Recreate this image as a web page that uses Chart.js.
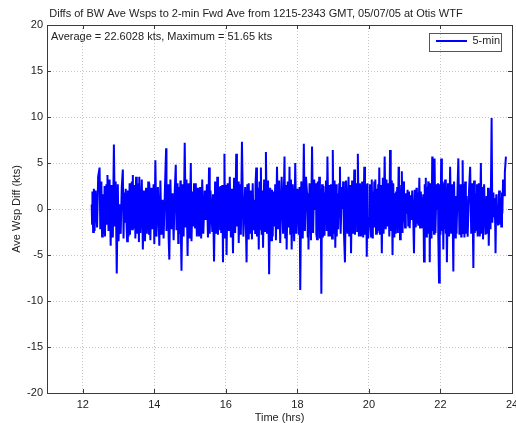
<!DOCTYPE html>
<html>
<head>
<meta charset="utf-8">
<title>Ave Wsp Diff</title>
<script src="https://cdn.jsdelivr.net/npm/chart.js@4.4.1/dist/chart.umd.min.js"></script>
<style>
html, body { margin: 0; padding: 0; background: #fff; overflow: hidden; }
#wrap { width: 530px; height: 423px; }
</style>
</head>
<body>
<div id="wrap"><canvas id="chart" width="530" height="423"></canvas></div>
<script>
/* =========================
DATA
========================= */

const titleText =
"Diffs of BW Ave Wsps to 2-min Fwd Ave from 1215-2343 GMT, 05/07/05 at Otis WTF";

const noteText =
"Average = 22.6028 kts, Maximum = 51.65 kts";

const seriesName = "5-min";

const xTicks = [12, 14, 16, 18, 20, 22, 24];

const yTicks = [-20, -15, -10, -5, 0, 5, 10, 15, 20];

// time of each sample (hrs)
const hours = [
  // 12.25 - 14.03
  12.25, 12.26, 12.27, 12.29, 12.31, 12.33, 12.36, 12.40, 12.43, 12.47,
  12.49, 12.52, 12.54, 12.56, 12.59, 12.61, 12.62, 12.64, 12.65, 12.66,
  12.68, 12.69, 12.72, 12.75, 12.78, 12.81, 12.84, 12.87, 12.90, 12.92,
  12.95, 12.98, 13.00, 13.03, 13.06, 13.09, 13.12, 13.14, 13.16, 13.18,
  13.20, 13.22, 13.24, 13.26, 13.28, 13.31, 13.32, 13.34, 13.35, 13.37,
  13.38, 13.40, 13.41, 13.43, 13.44, 13.46, 13.47, 13.49, 13.51, 13.52,
  13.54, 13.55, 13.57, 13.58, 13.61, 13.65, 13.68, 13.71, 13.74, 13.77,
  13.79, 13.80, 13.82, 13.83, 13.85, 13.86, 13.89, 13.92, 13.95, 13.98,
  14.00, 14.03,
  // 14.06 - 15.96
  14.06, 14.10, 14.14, 14.17, 14.20, 14.23, 14.26, 14.30, 14.33, 14.34,
  14.36, 14.37, 14.39, 14.40, 14.42, 14.45, 14.48, 14.51, 14.54, 14.57,
  14.60, 14.62, 14.65, 14.67, 14.68, 14.70, 14.71, 14.73, 14.74, 14.76,
  14.79, 14.82, 14.85, 14.88, 14.90, 14.93, 14.96, 14.99, 15.02, 15.04,
  15.07, 15.09, 15.11, 15.14, 15.16, 15.19, 15.22, 15.25, 15.28, 15.31,
  15.34, 15.37, 15.41, 15.44, 15.47, 15.50, 15.53, 15.55, 15.57, 15.59,
  15.62, 15.64, 15.67, 15.70, 15.73, 15.76, 15.78, 15.79, 15.81, 15.82,
  15.84, 15.85, 15.87, 15.90, 15.92, 15.93, 15.95, 15.96,
  // 15.98 - 17.94
  15.98, 16.00, 16.02, 16.05, 16.08, 16.11, 16.14, 16.17, 16.20, 16.23,
  16.26, 16.29, 16.31, 16.34, 16.36, 16.39, 16.42, 16.45, 16.49, 16.54,
  16.58, 16.60, 16.62, 16.64, 16.67, 16.70, 16.73, 16.75, 16.78, 16.80,
  16.82, 16.83, 16.85, 16.87, 16.90, 16.92, 16.94, 16.96, 16.98, 17.00,
  17.02, 17.04, 17.07, 17.10, 17.12, 17.15, 17.18, 17.21, 17.24, 17.27,
  17.29, 17.31, 17.33, 17.35, 17.38, 17.40, 17.43, 17.46, 17.49, 17.52,
  17.56, 17.60, 17.64, 17.66, 17.68, 17.70, 17.73, 17.76, 17.78, 17.80,
  17.82, 17.84, 17.87, 17.91, 17.94,
  // 17.97 - 19.94
  17.97, 18.00, 18.02, 18.04, 18.06, 18.08, 18.11, 18.15, 18.18, 18.21,
  18.24, 18.27, 18.29, 18.30, 18.31, 18.34, 18.38, 18.41, 18.44, 18.47,
  18.50, 18.52, 18.53, 18.55, 18.57, 18.59, 18.61, 18.63, 18.65, 18.67,
  18.69, 18.71, 18.73, 18.75, 18.76, 18.78, 18.80, 18.82, 18.84, 18.87,
  18.89, 18.92, 18.94, 18.97, 18.99, 19.01, 19.04, 19.06, 19.08, 19.10,
  19.12, 19.14, 19.17, 19.19, 19.21, 19.24, 19.26, 19.28, 19.30, 19.33,
  19.36, 19.40, 19.43, 19.45, 19.48, 19.50, 19.53, 19.56, 19.59, 19.61,
  19.62, 19.64, 19.66, 19.67, 19.69, 19.72, 19.75, 19.78, 19.81, 19.84,
  19.87, 19.89, 19.92, 19.94,
  // 19.96 - 21.96
  19.96, 19.98, 20.01, 20.03, 20.06, 20.08, 20.10, 20.11, 20.13, 20.15,
  20.16, 20.18, 20.20, 20.22, 20.24, 20.26, 20.27, 20.29, 20.31, 20.34,
  20.36, 20.39, 20.41, 20.44, 20.47, 20.49, 20.52, 20.54, 20.57, 20.59,
  20.61, 20.64, 20.66, 20.68, 20.71, 20.73, 20.75, 20.76, 20.78, 20.79,
  20.81, 20.83, 20.84, 20.86, 20.87, 20.89, 20.90, 20.92, 20.94, 20.96,
  20.98, 21.01, 21.03, 21.06, 21.08, 21.10, 21.12, 21.14, 21.17, 21.19,
  21.21, 21.24, 21.26, 21.28, 21.31, 21.33, 21.34, 21.36, 21.37, 21.38,
  21.40, 21.41, 21.43, 21.45, 21.47, 21.49, 21.52, 21.54, 21.56, 21.57,
  21.59, 21.60, 21.62, 21.63, 21.64, 21.65, 21.66, 21.67, 21.69, 21.70,
  21.72, 21.75, 21.77, 21.78, 21.80, 21.81, 21.82, 21.83, 21.84, 21.86,
  21.89, 21.91, 21.93, 21.94, 21.96,
  // 21.98 - 23.83
  21.98, 22.00, 22.02, 22.04, 22.06, 22.08, 22.10, 22.11, 22.13, 22.15,
  22.16, 22.18, 22.21, 22.24, 22.27, 22.30, 22.33, 22.36, 22.38, 22.41,
  22.43, 22.45, 22.48, 22.50, 22.53, 22.55, 22.58, 22.59, 22.61, 22.62,
  22.64, 22.65, 22.67, 22.69, 22.71, 22.73, 22.76, 22.80, 22.83, 22.86,
  22.89, 22.92, 22.94, 22.96, 22.98, 23.00, 23.02, 23.04, 23.07, 23.10,
  23.13, 23.15, 23.17, 23.19, 23.22, 23.26, 23.29, 23.31, 23.33, 23.35,
  23.38, 23.40, 23.43, 23.45, 23.48, 23.50, 23.51, 23.53, 23.54, 23.56,
  23.57, 23.59, 23.61, 23.64, 23.66, 23.67, 23.69, 23.70, 23.72, 23.73,
  23.75, 23.78, 23.80, 23.83
];

// wind speed difference (kts)
const diffs = [
  // 12.25 - 14.03
  0.5, -1.6, 1.9, -2.5, 2.2, -2.4, 2.0, -2.0, 3.5, 4.5,
  -2.2, 3.0, -3.0, 1.6, -2.7, 2.5, -3.0, 1.4, -1.5, 2.7,
  -1.6, 3.7, -2.4, 3.2, -4.0, 2.6, -3.1, 7.0, -1.9, 3.0,
  -7.0, 2.7, -3.5, 0.5, -2.7, 2.4, 4.3, -3.2, 1.8, -1.5,
  2.2, -1.1, -3.5, 2.0, -3.0, 2.8, -2.8, 1.9, -1.0, 3.0,
  -2.2, 3.7, -1.8, 2.6, -2.0, 2.2, -3.2, 3.5, -2.7, 1.6,
  -1.5, 2.8, -3.6, 3.5, -2.6, 3.2, -4.4, 2.0, -3.5, 2.3,
  -2.7, 1.5, -1.0, 3.0, -2.8, 2.8, -3.4, 2.3, -2.2, 2.7,
  -3.8, 5.3,
  // 14.06 - 15.96
  -3.0, 2.4, -4.0, 3.1, -2.8, 1.0, -3.2, 2.6, 6.6, -2.4,
  2.0, -1.0, 2.7, -3.1, -5.5, 3.2, -2.2, 1.7, -3.4, 1.8,
  4.8, -2.3, 2.8, -3.7, 2.4, -2.6, 0.5, 3.1, -1.9, -6.7,
  2.7, -3.0, 7.2, -2.0, 3.2, -5.1, 2.8, -3.2, 5.0, -3.5,
  1.9, -1.9, 2.8, -2.0, 2.8, -3.0, 2.3, -3.0, 2.4, -3.2,
  3.2, -2.7, 2.0, -1.2, 2.7, -3.1, 4.5, -2.7, 2.0, 0.6,
  -2.4, 1.6, -5.7, 3.0, -2.7, 3.5, -2.8, 1.6, -0.5, 2.4,
  -2.2, 2.5, -2.6, 2.6, -5.8, 2.0, -2.3, 6.0,
  // 15.98 - 17.94
  -3.1, 2.6, -5.0, 2.8, -2.4, 3.5, -3.1, 2.2, -4.8, 3.4,
  -2.6, 6.0, -1.9, 3.0, -3.7, 2.7, -2.8, 7.3, -3.0, 2.4,
  -5.8, 2.7, -3.2, 2.8, -2.7, 2.0, -3.3, 2.8, -2.3, 1.0,
  -2.6, 2.7, 4.5, -3.0, 2.3, -4.4, 3.0, -2.2, 4.5, -2.8,
  2.0, -4.2, 3.2, -2.4, 6.2, -2.7, 3.1, -7.1, 2.3, -3.4,
  2.1, -3.0, 1.9, -1.9, 2.7, -3.4, 4.6, -2.2, 3.1, -3.7,
  3.5, -2.7, 5.7, -3.1, 2.6, -4.4, 3.0, -2.0, 4.6, -2.7,
  3.2, -4.4, 2.7, -3.5, 5.0,
  // 17.97 - 19.94
  -2.7, 2.2, 0.5, -2.8, 2.4, -8.8, 3.0, -3.2, 7.1, -2.4,
  3.5, 1.7, -3.1, 1.6, -4.4, 2.8, -3.4, 6.8, -2.6, 3.2,
  0.0, 2.8, -2.7, -3.3, 3.0, -2.4, 3.5, -3.2, 2.2, -9.2,
  2.7, -3.1, 2.5, -2.8, 1.8, -1.0, 3.1, -2.4, 5.7, -3.0,
  2.6, -3.0, 2.7, -3.2, 6.4, -2.7, 3.1, -4.2, 2.7, -3.0,
  1.7, -2.2, 2.7, 4.6, -2.7, 2.4, 0.0, 3.0, -2.3, -5.8,
  3.1, -2.7, 3.5, -3.0, 2.6, -4.8, 3.1, -2.7, 4.3, -2.8,
  2.0, -0.5, 2.8, -2.4, 6.0, -3.0, 2.8, -3.0, 3.0, -3.1,
  4.6, -2.8, 2.7, -5.2,
  // 19.96 - 21.96
  2.8, -3.2, -1.0, 2.7, -3.0, 3.2, -3.1, 1.9, -1.9, 3.0,
  -2.0, 3.2, -2.7, 2.2, -2.6, 2.7, -2.4, 4.5, -2.8, 2.6,
  -4.8, 3.4, -2.7, 5.7, -2.2, 3.2, -1.9, 2.8, -3.0, 6.4,
  -2.4, 3.1, -5.0, 2.8, -3.1, 1.7, -2.7, 1.9, -0.5, 2.4,
  -2.6, 4.6, -2.0, 2.6, -3.3, 2.2, -1.9, 4.1, -2.6, 3.0,
  0.6, -2.0, 1.7, -0.5, 2.1, -1.8, 1.9, -2.1, 1.5, -1.2,
  2.0, -1.3, -4.8, 2.1, -2.0, 2.3, -1.6, 1.8, 0.5, -1.7,
  1.4, 3.4, -2.0, 1.9, 0.6, -2.1, 1.6, -5.7, 2.7, -2.4,
  3.4, -3.0, 2.4, 0.5, -2.6, 1.6, 3.0, -2.7, 2.0, -5.8,
  2.8, -3.2, 5.7, -2.4, 3.0, 1.0, -2.7, 2.0, 5.5, -2.6,
  2.7, 0.0, 2.8, -3.0, -8.0,
  // 21.98 - 23.83
  2.7, -2.8, 5.5, -2.4, 3.0, -4.4, 2.8, -2.2, 3.2, -2.7,
  2.3, -5.8, 2.8, -3.0, 4.6, -2.7, 2.7, -6.8, 3.0, -3.1,
  1.4, -2.7, 2.6, 5.5, -2.8, 2.7, -3.0, 2.7, -2.2, 5.3,
  -2.6, 2.7, -3.1, 3.0, -2.7, 1.4, -3.0, 2.2, 4.6, -2.7,
  2.8, -6.4, 3.1, -2.6, 1.7, -2.3, 2.7, -3.0, 2.8, -3.0,
  5.0, -2.7, 2.4, -3.3, 2.7, -2.8, 1.4, -2.7, 2.3, -4.0,
  2.0, -2.2, 9.9, -1.5, 1.8, -0.8, 1.2, -1.6, -4.8, 1.6,
  -1.5, 0.0, -1.8, 2.0, 1.4, -1.6, 1.2, -1.9, 1.8, -0.5,
  3.2, 1.5, 4.0, 5.7
];

/* =========================
STYLE
========================= */

Chart.defaults.font.family =
"'Liberation Sans', Arial, Helvetica, sans-serif";
Chart.defaults.font.size = 11;
Chart.defaults.color = "#222";

const gridColor = "#c8c8c8";
const frameColor = "#3a3a3a";

/* frame, inward ticks, note text, legend box */
const matlabLook = {

  id: "matlabLook",

  // legend sits in the upper right corner of the axes
  beforeDraw(chart){

    const lg = chart.legend;
    const a = chart.chartArea;

    if(!lg) return;

    const pad = lg.options.labels.padding;
    const h = lg.height;
    const w = lg.width;

    lg.left = a.right - 76 - pad;
    lg.right = lg.left + w;
    lg.top = a.top + 17 - 6.6 - pad;
    lg.bottom = lg.top + h;

  },

  afterDraw(chart){

    const ctx = chart.ctx;
    const a = chart.chartArea;
    const sx = chart.scales.x;
    const sy = chart.scales.y;
    const tl = 4;

    ctx.save();

    ctx.strokeStyle = frameColor;
    ctx.lineWidth = 1;
    ctx.setLineDash([]);

    ctx.strokeRect(
      Math.round(a.left) + 0.5,
      Math.round(a.top) + 0.5,
      Math.round(a.right - a.left),
      Math.round(a.bottom - a.top)
    );

    ctx.beginPath();
    xTicks.forEach(v => {
      const px = Math.round(sx.getPixelForValue(v)) + 0.5;
      ctx.moveTo(px, a.bottom); ctx.lineTo(px, a.bottom - tl);
      ctx.moveTo(px, a.top); ctx.lineTo(px, a.top + tl);
    });
    yTicks.forEach(v => {
      const py = Math.round(sy.getPixelForValue(v)) + 0.5;
      ctx.moveTo(a.left, py); ctx.lineTo(a.left + tl, py);
      ctx.moveTo(a.right, py); ctx.lineTo(a.right - tl, py);
    });
    ctx.stroke();

    // note in upper left
    ctx.fillStyle = "#222";
    ctx.font = "11px " + Chart.defaults.font.family;
    ctx.textAlign = "left";
    ctx.textBaseline = "middle";
    ctx.fillText(noteText, a.left + 4, a.top + 12);

    // box round the legend
    const lg = chart.legend;
    if(lg){
      const pad = lg.options.labels.padding;
      const ix = lg.left + pad;
      const iy = lg.top + pad + 6.6;
      ctx.strokeStyle = "#555";
      ctx.strokeRect(
        Math.round(ix - 7) + 0.5,
        Math.round(iy - 9) + 0.5,
        72,
        18
      );
    }

    ctx.restore();

  }

};

/* =========================
CHART
========================= */

const points = hours.map((h, i) => ({ x: h, y: diffs[i] }));

new Chart(document.getElementById("chart"), {

  type: "line",

  data: {
    datasets: [{
      label: seriesName,
      data: points,
      borderColor: "#0000ff",
      backgroundColor: "#0000ff",
      borderWidth: 2,
      pointRadius: 0,
      tension: 0,
      fill: false
    }]
  },

  options: {

    responsive: false,
    animation: false,

    layout: {
      padding: { top: 0, right: 18, bottom: 0, left: 0 }
    },

    plugins: {

      title: {
        display: true,
        text: titleText,
        font: { size: 11, weight: "normal" },
        color: "#222",
        padding: { top: 7, bottom: 4.8 }
      },

      legend: {
        position: "chartArea",
        align: "start",
        labels: {
          usePointStyle: true,
          pointStyle: "line",
          pointStyleWidth: 31,
          color: "#222",
          font: { size: 11 },
          padding: 12
        }
      },

      tooltip: { enabled: false }

    },

    scales: {

      x: {
        type: "linear",
        min: 11,
        max: 24,
        afterBuildTicks: s => { s.ticks = xTicks.map(v => ({ value: v })); },
        afterFit: s => { s.height = 30; },
        ticks: { padding: 5, autoSkip: false, maxRotation: 0, color: "#222" },
        grid: { color: gridColor, drawTicks: false, lineWidth: 1 },
        border: { display: false, dash: [1, 2] },
        title: {
          display: true,
          text: "Time (hrs)",
          color: "#222",
          font: { size: 11 },
          padding: { top: 0, bottom: -2 }
        }
      },

      y: {
        type: "linear",
        min: -20,
        max: 20,
        afterBuildTicks: s => { s.ticks = yTicks.map(v => ({ value: v })); },
        afterFit: s => { s.width = 47; },
        ticks: { padding: 4, color: "#222" },
        grid: { color: gridColor, drawTicks: false, lineWidth: 1 },
        border: { display: false, dash: [1, 2] },
        title: {
          display: true,
          text: "Ave Wsp Diff (kts)",
          color: "#222",
          font: { size: 11 },
          padding: { top: 10, bottom: 0 }
        }
      }

    }

  },

  plugins: [matlabLook]

});
</script>
</body>
</html>
